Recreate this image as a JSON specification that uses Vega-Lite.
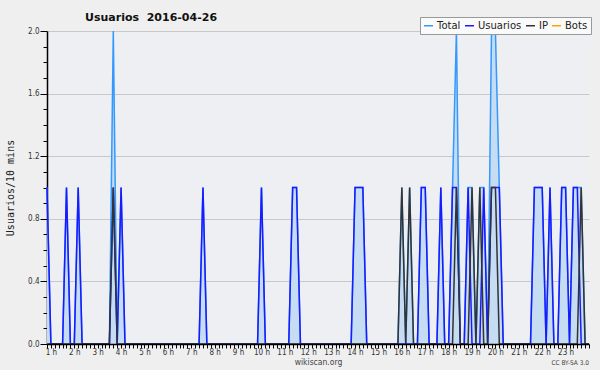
{
  "$schema": "https://vega.github.io/schema/vega-lite/v6.json",
  "width": 542,
  "height": 313,
  "autosize": {"type": "none"},
  "padding": {"left": 47, "top": 31, "right": 11, "bottom": 26},
  "background": "#efefef",
  "title": {"text": "Usuarios\u00a0 2016-04-26", "anchor": "start", "frame": "group", "dx": 38, "dy": 26, "offset": 9, "baseline": "bottom", "font": "DejaVu Sans", "fontSize": 11, "fontWeight": "bold", "color": "#111111"},
  "config": {"view": {"fill": "#eeeff2", "stroke": null}},
  "data": {"values": [
    {"minuto":50,"Total":1,"Usuarios":1,"IP":0,"Bots":0},
    {"minuto":60,"Total":0,"Usuarios":0,"IP":0,"Bots":0},
    {"minuto":70,"Total":0,"Usuarios":0,"IP":0,"Bots":0},
    {"minuto":80,"Total":0,"Usuarios":0,"IP":0,"Bots":0},
    {"minuto":90,"Total":0,"Usuarios":0,"IP":0,"Bots":0},
    {"minuto":100,"Total":1,"Usuarios":1,"IP":0,"Bots":0},
    {"minuto":110,"Total":0,"Usuarios":0,"IP":0,"Bots":0},
    {"minuto":120,"Total":0,"Usuarios":0,"IP":0,"Bots":0},
    {"minuto":130,"Total":1,"Usuarios":1,"IP":0,"Bots":0},
    {"minuto":140,"Total":0,"Usuarios":0,"IP":0,"Bots":0},
    {"minuto":150,"Total":0,"Usuarios":0,"IP":0,"Bots":0},
    {"minuto":160,"Total":0,"Usuarios":0,"IP":0,"Bots":0},
    {"minuto":170,"Total":0,"Usuarios":0,"IP":0,"Bots":0},
    {"minuto":180,"Total":0,"Usuarios":0,"IP":0,"Bots":0},
    {"minuto":190,"Total":0,"Usuarios":0,"IP":0,"Bots":0},
    {"minuto":200,"Total":0,"Usuarios":0,"IP":0,"Bots":0},
    {"minuto":210,"Total":0,"Usuarios":0,"IP":0,"Bots":0},
    {"minuto":220,"Total":2,"Usuarios":1,"IP":1,"Bots":0},
    {"minuto":230,"Total":0,"Usuarios":0,"IP":0,"Bots":0},
    {"minuto":240,"Total":1,"Usuarios":1,"IP":0,"Bots":0},
    {"minuto":250,"Total":0,"Usuarios":0,"IP":0,"Bots":0},
    {"minuto":260,"Total":0,"Usuarios":0,"IP":0,"Bots":0},
    {"minuto":270,"Total":0,"Usuarios":0,"IP":0,"Bots":0},
    {"minuto":280,"Total":0,"Usuarios":0,"IP":0,"Bots":0},
    {"minuto":290,"Total":0,"Usuarios":0,"IP":0,"Bots":0},
    {"minuto":300,"Total":0,"Usuarios":0,"IP":0,"Bots":0},
    {"minuto":310,"Total":0,"Usuarios":0,"IP":0,"Bots":0},
    {"minuto":320,"Total":0,"Usuarios":0,"IP":0,"Bots":0},
    {"minuto":330,"Total":0,"Usuarios":0,"IP":0,"Bots":0},
    {"minuto":340,"Total":0,"Usuarios":0,"IP":0,"Bots":0},
    {"minuto":350,"Total":0,"Usuarios":0,"IP":0,"Bots":0},
    {"minuto":360,"Total":0,"Usuarios":0,"IP":0,"Bots":0},
    {"minuto":370,"Total":0,"Usuarios":0,"IP":0,"Bots":0},
    {"minuto":380,"Total":0,"Usuarios":0,"IP":0,"Bots":0},
    {"minuto":390,"Total":0,"Usuarios":0,"IP":0,"Bots":0},
    {"minuto":400,"Total":0,"Usuarios":0,"IP":0,"Bots":0},
    {"minuto":410,"Total":0,"Usuarios":0,"IP":0,"Bots":0},
    {"minuto":420,"Total":0,"Usuarios":0,"IP":0,"Bots":0},
    {"minuto":430,"Total":0,"Usuarios":0,"IP":0,"Bots":0},
    {"minuto":440,"Total":0,"Usuarios":0,"IP":0,"Bots":0},
    {"minuto":450,"Total":1,"Usuarios":1,"IP":0,"Bots":0},
    {"minuto":460,"Total":0,"Usuarios":0,"IP":0,"Bots":0},
    {"minuto":470,"Total":0,"Usuarios":0,"IP":0,"Bots":0},
    {"minuto":480,"Total":0,"Usuarios":0,"IP":0,"Bots":0},
    {"minuto":490,"Total":0,"Usuarios":0,"IP":0,"Bots":0},
    {"minuto":500,"Total":0,"Usuarios":0,"IP":0,"Bots":0},
    {"minuto":510,"Total":0,"Usuarios":0,"IP":0,"Bots":0},
    {"minuto":520,"Total":0,"Usuarios":0,"IP":0,"Bots":0},
    {"minuto":530,"Total":0,"Usuarios":0,"IP":0,"Bots":0},
    {"minuto":540,"Total":0,"Usuarios":0,"IP":0,"Bots":0},
    {"minuto":550,"Total":0,"Usuarios":0,"IP":0,"Bots":0},
    {"minuto":560,"Total":0,"Usuarios":0,"IP":0,"Bots":0},
    {"minuto":570,"Total":0,"Usuarios":0,"IP":0,"Bots":0},
    {"minuto":580,"Total":0,"Usuarios":0,"IP":0,"Bots":0},
    {"minuto":590,"Total":0,"Usuarios":0,"IP":0,"Bots":0},
    {"minuto":600,"Total":1,"Usuarios":1,"IP":0,"Bots":0},
    {"minuto":610,"Total":0,"Usuarios":0,"IP":0,"Bots":0},
    {"minuto":620,"Total":0,"Usuarios":0,"IP":0,"Bots":0},
    {"minuto":630,"Total":0,"Usuarios":0,"IP":0,"Bots":0},
    {"minuto":640,"Total":0,"Usuarios":0,"IP":0,"Bots":0},
    {"minuto":650,"Total":0,"Usuarios":0,"IP":0,"Bots":0},
    {"minuto":660,"Total":0,"Usuarios":0,"IP":0,"Bots":0},
    {"minuto":670,"Total":0,"Usuarios":0,"IP":0,"Bots":0},
    {"minuto":680,"Total":1,"Usuarios":1,"IP":0,"Bots":0},
    {"minuto":690,"Total":1,"Usuarios":1,"IP":0,"Bots":0},
    {"minuto":700,"Total":0,"Usuarios":0,"IP":0,"Bots":0},
    {"minuto":710,"Total":0,"Usuarios":0,"IP":0,"Bots":0},
    {"minuto":720,"Total":0,"Usuarios":0,"IP":0,"Bots":0},
    {"minuto":730,"Total":0,"Usuarios":0,"IP":0,"Bots":0},
    {"minuto":740,"Total":0,"Usuarios":0,"IP":0,"Bots":0},
    {"minuto":750,"Total":0,"Usuarios":0,"IP":0,"Bots":0},
    {"minuto":760,"Total":0,"Usuarios":0,"IP":0,"Bots":0},
    {"minuto":770,"Total":0,"Usuarios":0,"IP":0,"Bots":0},
    {"minuto":780,"Total":0,"Usuarios":0,"IP":0,"Bots":0},
    {"minuto":790,"Total":0,"Usuarios":0,"IP":0,"Bots":0},
    {"minuto":800,"Total":0,"Usuarios":0,"IP":0,"Bots":0},
    {"minuto":810,"Total":0,"Usuarios":0,"IP":0,"Bots":0},
    {"minuto":820,"Total":0,"Usuarios":0,"IP":0,"Bots":0},
    {"minuto":830,"Total":0,"Usuarios":0,"IP":0,"Bots":0},
    {"minuto":840,"Total":1,"Usuarios":1,"IP":0,"Bots":0},
    {"minuto":850,"Total":1,"Usuarios":1,"IP":0,"Bots":0},
    {"minuto":860,"Total":1,"Usuarios":1,"IP":0,"Bots":0},
    {"minuto":870,"Total":0,"Usuarios":0,"IP":0,"Bots":0},
    {"minuto":880,"Total":0,"Usuarios":0,"IP":0,"Bots":0},
    {"minuto":890,"Total":0,"Usuarios":0,"IP":0,"Bots":0},
    {"minuto":900,"Total":0,"Usuarios":0,"IP":0,"Bots":0},
    {"minuto":910,"Total":0,"Usuarios":0,"IP":0,"Bots":0},
    {"minuto":920,"Total":0,"Usuarios":0,"IP":0,"Bots":0},
    {"minuto":930,"Total":0,"Usuarios":0,"IP":0,"Bots":0},
    {"minuto":940,"Total":0,"Usuarios":0,"IP":0,"Bots":0},
    {"minuto":950,"Total":0,"Usuarios":0,"IP":0,"Bots":0},
    {"minuto":960,"Total":1,"Usuarios":0,"IP":1,"Bots":0},
    {"minuto":970,"Total":0,"Usuarios":0,"IP":0,"Bots":0},
    {"minuto":980,"Total":1,"Usuarios":0,"IP":1,"Bots":0},
    {"minuto":990,"Total":0,"Usuarios":0,"IP":0,"Bots":0},
    {"minuto":1000,"Total":0,"Usuarios":0,"IP":0,"Bots":0},
    {"minuto":1010,"Total":1,"Usuarios":1,"IP":0,"Bots":0},
    {"minuto":1020,"Total":1,"Usuarios":1,"IP":0,"Bots":0},
    {"minuto":1030,"Total":0,"Usuarios":0,"IP":0,"Bots":0},
    {"minuto":1040,"Total":0,"Usuarios":0,"IP":0,"Bots":0},
    {"minuto":1050,"Total":0,"Usuarios":0,"IP":0,"Bots":0},
    {"minuto":1060,"Total":1,"Usuarios":1,"IP":0,"Bots":0},
    {"minuto":1070,"Total":0,"Usuarios":0,"IP":0,"Bots":0},
    {"minuto":1080,"Total":0,"Usuarios":0,"IP":0,"Bots":0},
    {"minuto":1090,"Total":1,"Usuarios":1,"IP":0,"Bots":0},
    {"minuto":1100,"Total":2,"Usuarios":1,"IP":1,"Bots":0},
    {"minuto":1110,"Total":0,"Usuarios":0,"IP":0,"Bots":0},
    {"minuto":1120,"Total":0,"Usuarios":0,"IP":0,"Bots":0},
    {"minuto":1130,"Total":1,"Usuarios":1,"IP":0,"Bots":0},
    {"minuto":1140,"Total":1,"Usuarios":0,"IP":1,"Bots":0},
    {"minuto":1150,"Total":0,"Usuarios":0,"IP":0,"Bots":0},
    {"minuto":1160,"Total":1,"Usuarios":0,"IP":1,"Bots":0},
    {"minuto":1170,"Total":1,"Usuarios":1,"IP":0,"Bots":0},
    {"minuto":1180,"Total":0,"Usuarios":0,"IP":0,"Bots":0},
    {"minuto":1190,"Total":2,"Usuarios":1,"IP":1,"Bots":0},
    {"minuto":1200,"Total":2,"Usuarios":1,"IP":1,"Bots":0},
    {"minuto":1210,"Total":1,"Usuarios":1,"IP":0,"Bots":0},
    {"minuto":1220,"Total":0,"Usuarios":0,"IP":0,"Bots":0},
    {"minuto":1230,"Total":0,"Usuarios":0,"IP":0,"Bots":0},
    {"minuto":1240,"Total":0,"Usuarios":0,"IP":0,"Bots":0},
    {"minuto":1250,"Total":0,"Usuarios":0,"IP":0,"Bots":0},
    {"minuto":1260,"Total":0,"Usuarios":0,"IP":0,"Bots":0},
    {"minuto":1270,"Total":0,"Usuarios":0,"IP":0,"Bots":0},
    {"minuto":1280,"Total":0,"Usuarios":0,"IP":0,"Bots":0},
    {"minuto":1290,"Total":0,"Usuarios":0,"IP":0,"Bots":0},
    {"minuto":1300,"Total":1,"Usuarios":1,"IP":0,"Bots":0},
    {"minuto":1310,"Total":1,"Usuarios":1,"IP":0,"Bots":0},
    {"minuto":1320,"Total":1,"Usuarios":1,"IP":0,"Bots":0},
    {"minuto":1330,"Total":0,"Usuarios":0,"IP":0,"Bots":0},
    {"minuto":1340,"Total":1,"Usuarios":1,"IP":0,"Bots":0},
    {"minuto":1350,"Total":0,"Usuarios":0,"IP":0,"Bots":0},
    {"minuto":1360,"Total":0,"Usuarios":0,"IP":0,"Bots":0},
    {"minuto":1370,"Total":1,"Usuarios":1,"IP":0,"Bots":0},
    {"minuto":1380,"Total":1,"Usuarios":1,"IP":0,"Bots":0},
    {"minuto":1390,"Total":0,"Usuarios":0,"IP":0,"Bots":0},
    {"minuto":1400,"Total":1,"Usuarios":1,"IP":0,"Bots":0},
    {"minuto":1410,"Total":1,"Usuarios":1,"IP":0,"Bots":0},
    {"minuto":1420,"Total":1,"Usuarios":0,"IP":1,"Bots":0},
    {"minuto":1430,"Total":0,"Usuarios":0,"IP":0,"Bots":0},
    {"minuto":1440,"Total":0,"Usuarios":0,"IP":0,"Bots":0}
  ]},
  "encoding": {
    "x": {
      "field": "minuto", "type": "quantitative",
      "scale": {"domain": [50, 1440], "nice": false, "zero": false},
      "axis": {
        "title": "wikiscan.org",
        "titleFont": "DejaVu Sans Condensed, DejaVu Sans", "titleFontSize": 8.5, "titleFontWeight": "normal", "titleColor": "#444444", "titlePadding": 1,
        "values": [50,60,70,80,90,100,110,120,130,140,150,160,170,180,190,200,210,220,230,240,250,260,270,280,290,300,310,320,330,340,350,360,370,380,390,400,410,420,430,440,450,460,470,480,490,500,510,520,530,540,550,560,570,580,590,600,610,620,630,640,650,660,670,680,690,700,710,720,730,740,750,760,770,780,790,800,810,820,830,840,850,860,870,880,890,900,910,920,930,940,950,960,970,980,990,1000,1010,1020,1030,1040,1050,1060,1070,1080,1090,1100,1110,1120,1130,1140,1150,1160,1170,1180,1190,1200,1210,1220,1230,1240,1250,1260,1270,1280,1290,1300,1310,1320,1330,1340,1350,1360,1370,1380,1390,1400,1410,1420,1430,1440],
        "labelExpr": "datum.value % 60 == 0 && datum.value < 1440 ? (datum.value / 60) + ' h' : ''",
        "labelOverlap": false, "labelFlush": false,
        "labelFont": "DejaVu Sans Condensed, DejaVu Sans", "labelFontSize": 8, "labelColor": "#333333", "labelPadding": 0,
        "tickSize": 4, "tickColor": "#000000", "domainColor": "#000000", "domainWidth": 1.5,
        "grid": false, "zindex": 1
      }
    },
    "y": {
      "field": "valor", "type": "quantitative",
      "scale": {"domain": [0, 2], "nice": false},
      "axis": {
        "title": "Usuarios/10 mins",
        "titleFont": "DejaVu Sans Mono", "titleFontSize": 10, "titleFontWeight": "normal", "titleColor": "#222222", "titlePadding": 12,
        "values": [0,0.1,0.2,0.3,0.4,0.5,0.6,0.7,0.8,0.9,1,1.1,1.2,1.3,1.4,1.5,1.6,1.7,1.8,1.9,2],
        "labelExpr": "round(datum.value * 10) % 4 == 0 ? format(datum.value, '.1f') : ''",
        "labelOverlap": false, "labelFlush": false,
        "labelFont": "DejaVu Sans Condensed, DejaVu Sans", "labelFontSize": 8, "labelColor": "#333333", "labelPadding": 1,
        "tickSize": {"condition": {"test": "round(datum.value * 10) % 4 == 0", "value": 7}, "value": 4},
        "tickColor": "#000000", "domainColor": "#000000", "domainWidth": 1.5,
        "grid": true, "gridColor": "#c8c8c8",
        "gridOpacity": {"condition": {"test": "round(datum.value * 10) % 4 == 0 && datum.value > 0", "value": 1}, "value": 0},
        "zindex": 0
      }
    }
  },
  "layer": [
    {
      "transform": [{"fold": ["Total", "Usuarios", "IP", "Bots"], "as": ["serie", "valor"]}, {"filter": "datum.serie == 'Total'"}],
      "mark": {"type": "area", "color": "#c5dcf2", "opacity": 1}
    },
    {
      "transform": [{"fold": ["Total", "Usuarios", "IP", "Bots"], "as": ["serie", "valor"]}, {"filter": "datum.serie == 'Total'"}],
      "mark": {"type": "line", "strokeWidth": 1.5},
      "encoding": {"color": {"field": "serie", "type": "nominal",
        "scale": {"domain": ["Total", "Usuarios", "IP", "Bots"], "range": ["#3399ff", "#1a1aff", "#333333", "#ffa500"]},
        "legend": {"orient": "none", "legendX": 373, "legendY": -14, "direction": "horizontal", "title": null,
          "symbolType": "stroke", "symbolSize": 81, "symbolStrokeWidth": 1.5,
          "labelFont": "DejaVu Sans", "labelFontSize": 10, "labelColor": "#222222", "labelOffset": 3,
          "columnPadding": 1, "padding": 3, "strokeColor": "#999999", "fillColor": "#fafafa"}}}
    },
    {
      "transform": [{"fold": ["Total", "Usuarios", "IP", "Bots"], "as": ["serie", "valor"]}, {"filter": "datum.serie == 'Usuarios'"}],
      "mark": {"type": "line", "strokeWidth": 1.5},
      "encoding": {"color": {"field": "serie", "type": "nominal"}}
    },
    {
      "transform": [{"fold": ["Total", "Usuarios", "IP", "Bots"], "as": ["serie", "valor"]}, {"filter": "datum.serie == 'IP'"}],
      "mark": {"type": "line", "strokeWidth": 1.5},
      "encoding": {"color": {"field": "serie", "type": "nominal"}}
    },
    {
      "data": {"values": [{"minuto": 1440, "valor": 0, "nota": "CC BY-SA 3.0"}]},
      "mark": {"type": "text", "align": "right", "baseline": "middle", "dy": 19, "font": "DejaVu Sans Condensed, DejaVu Sans", "fontSize": 6.5, "color": "#444444"},
      "encoding": {"text": {"field": "nota"}}
    }
  ]
}
